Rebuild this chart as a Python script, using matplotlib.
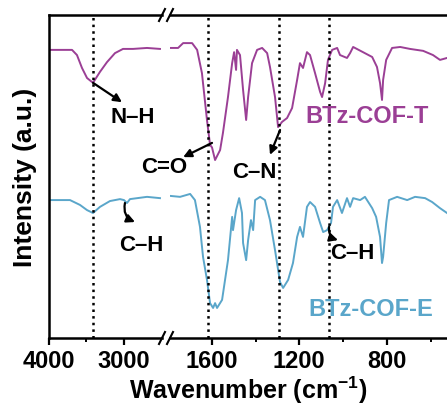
import matplotlib
matplotlib.use('Agg')
import matplotlib.pyplot as plt

plt.rcParams['font.family'] = ['Liberation Sans', 'DejaVu Sans']
plt.rcParams['font.weight'] = 'bold'
plt.rcParams['mathtext.fontset'] = 'custom'
plt.rcParams['mathtext.rm'] = 'Liberation Sans:bold'
plt.rcParams['mathtext.bf'] = 'Liberation Sans:bold'

purple = '#9b3f95'
blue = '#5aa6ca'

# BTz-COF-T, high wavenumber window
t_wn_hi = [4000, 3693, 3627, 3560, 3493, 3413, 3320, 3227, 3120, 3013, 2880, 2693, 2520]
t_hi = [89.2, 89.2, 87.6, 83.6, 80.5, 79.0, 82.4, 85.4, 88.2, 89.5, 89.5, 89.8, 89.5]

# BTz-COF-T, fingerprint window
t_wn_lo = [1791, 1754, 1731, 1690, 1667, 1645, 1622, 1608, 1599, 1585,
           1562, 1549, 1526, 1507, 1498, 1489, 1485, 1471, 1457, 1443,
           1434, 1416, 1393, 1370, 1347, 1334, 1311, 1297, 1279, 1256,
           1233, 1210, 1197, 1183, 1165, 1151, 1128, 1105, 1096, 1082,
           1069, 1050, 1027, 1014, 982, 968, 954, 909, 867, 845,
           831, 822, 817, 803, 776, 739, 694, 634, 589, 557, 525]
t_lo = [89.8, 89.8, 91.3, 91.3, 89.2, 82.0, 67.5, 59.8, 59.0, 55.1,
        58.2, 63.5, 74.6, 85.1, 88.5, 83.0, 89.2, 87.6, 76.8, 67.5,
        74.6, 85.1, 89.2, 89.8, 88.2, 83.9, 74.6, 65.3, 66.9, 68.1,
        71.2, 79.9, 85.1, 83.6, 88.5, 87.6, 82.0, 76.2, 74.6, 78.9,
        86.1, 89.2, 89.8, 87.6, 86.7, 88.2, 90.1, 88.5, 87.0, 83.9,
        78.9, 73.7, 79.9, 86.1, 89.8, 90.1, 89.5, 88.9, 87.6, 86.1, 86.7]

# BTz-COF-E, high wavenumber window
e_wn_hi = [4000, 3720, 3587, 3493, 3413, 3320, 3187, 3053, 3000, 2960, 2920, 2693, 2520]
e_hi = [42.7, 42.7, 41.2, 39.6, 38.7, 40.6, 42.4, 43.0, 42.7, 41.8, 43.0, 43.7, 43.3]

# BTz-COF-E, fingerprint window
e_wn_lo = [1791, 1745, 1699, 1677, 1654, 1640, 1622, 1608, 1594, 1585,
           1576, 1553, 1526, 1507, 1503, 1489, 1475, 1462, 1457, 1443,
           1434, 1421, 1411, 1402, 1379, 1357, 1334, 1311, 1288, 1274,
           1251, 1229, 1210, 1197, 1183, 1165, 1151, 1128, 1105, 1091,
           1073, 1055, 1046, 1027, 1005, 982, 968, 954, 922, 900,
           867, 849, 831, 822, 817, 803, 790, 753, 707, 671,
           625, 593, 557, 525]
e_lo = [44.0, 43.7, 44.6, 42.7, 34.4, 25.1, 18.0, 10.8, 9.3, 10.8,
        9.3, 11.8, 24.1, 37.5, 33.4, 39.6, 43.3, 38.7, 29.4, 24.1,
        30.3, 36.5, 33.4, 42.7, 43.7, 42.7, 36.5, 27.2, 17.3, 15.5,
        18.0, 23.2, 31.3, 34.4, 31.3, 40.6, 42.1, 40.6, 35.6, 32.8,
        33.4, 35.6, 40.6, 42.7, 38.7, 43.3, 40.6, 43.3, 42.7, 43.7,
        40.2, 37.5, 31.3, 23.2, 25.1, 35.6, 42.7, 43.7, 42.7, 43.7,
        43.3, 42.1, 40.2, 38.7]

# band positions marked with dotted guides
guides_hi = [3413]
guides_lo = [1618, 1292, 1065]

W, H = 447, 405
fig = plt.figure(figsize=(W / 100, H / 100), dpi=100)

def px_box(x0, x1, y0, y1):
    return [x0 / W, 1 - y1 / H, (x1 - x0) / W, (y1 - y0) / H]

ax1 = fig.add_axes(px_box(49, 162, 15, 338))
ax2 = fig.add_axes(px_box(170, 447, 15, 338))

ax1.plot(t_wn_hi, t_hi, color=purple, lw=1.4)
ax1.plot(e_wn_hi, e_hi, color=blue, lw=1.4)
ax2.plot(t_wn_lo, t_lo, color=purple, lw=1.4)
ax2.plot(e_wn_lo, e_lo, color=blue, lw=1.4)

ax1.set_xlim(4000, 2493)
ax2.set_xlim(1791, 525)
for ax in (ax1, ax2):
    ax.set_ylim(0, 100)
    ax.set_yticks([])
    for s in ax.spines.values():
        s.set_linewidth(1.8)
    ax.tick_params(axis='x', which='major', direction='out', length=5, width=1.6,
                   labelsize=17, pad=4)
    ax.tick_params(axis='x', which='minor', direction='out', length=3, width=1.4)

ax1.spines['right'].set_visible(False)
ax2.spines['left'].set_visible(False)
ax2.spines['right'].set_visible(False)

ax1.set_xticks([4000, 3000])
ax1.set_xticks([3500], minor=True)
ax2.set_xticks([1600, 1200, 800])
ax2.set_xticks([1400, 1000, 600], minor=True)

for g in guides_hi:
    ax1.axvline(g, color='k', ls=':', lw=1.8)
for g in guides_lo:
    ax2.axvline(g, color='k', ls=':', lw=1.8)

# break marks on the top and bottom spines
for xc in (162, 170):
    for yc in (15, 338):
        fig.add_artist(plt.Line2D([(xc - 3) / W, (xc + 3) / W],
                                  [1 - (yc + 6) / H, 1 - (yc - 6) / H],
                                  transform=fig.transFigure, color='k', lw=1.5))

arrow = dict(arrowstyle='-|>', color='k', lw=1.6, mutation_scale=12, shrinkA=0, shrinkB=0)

ax1.annotate('', xy=(3027, 73), xytext=(3413, 79), arrowprops=arrow)
ax1.text(2880, 68.4, 'N\u2013H', ha='center', va='center', fontsize=16)

ax2.annotate('', xy=(1731, 56), xytext=(1599, 60.4), arrowprops=arrow, annotation_clip=False)
ax2.text(1818, 52.9, 'C=O', ha='center', va='center', fontsize=16)

ax2.annotate('', xy=(1334, 56.7), xytext=(1288, 64.4), arrowprops=arrow)
ax2.text(1407, 51.1, 'C\u2013N', ha='center', va='center', fontsize=16)

ax1.annotate('', xy=(2853, 35.9), xytext=(2987, 41.8),
             arrowprops=dict(arrow, connectionstyle='arc3,rad=0.4'))
ax1.text(2773, 28.5, 'C\u2013H', ha='center', va='center', fontsize=16)

ax2.annotate('', xy=(1023, 30.3), xytext=(1064, 34.4),
             arrowprops=dict(arrow, connectionstyle='arc3,rad=0.4'))
ax2.text(959, 26.3, 'C\u2013H', ha='center', va='center', fontsize=16)

ax2.text(890, 68.7, 'BTz-COF-T', color=purple, ha='center', va='center', fontsize=17)
ax2.text(872, 8.7, 'BTz-COF-E', color=blue, ha='center', va='center', fontsize=17)

fig.text(25 / W, 1 - 177 / H, 'Intensity (a.u.)', rotation=90, ha='center', va='center',
         fontsize=19)
fig.text(248 / W, 1 - 390 / H, r'Wavenumber (cm$^{\mathbf{-1}}$)', ha='center', va='center',
         fontsize=18)

fig.savefig('out.png', dpi=100)
